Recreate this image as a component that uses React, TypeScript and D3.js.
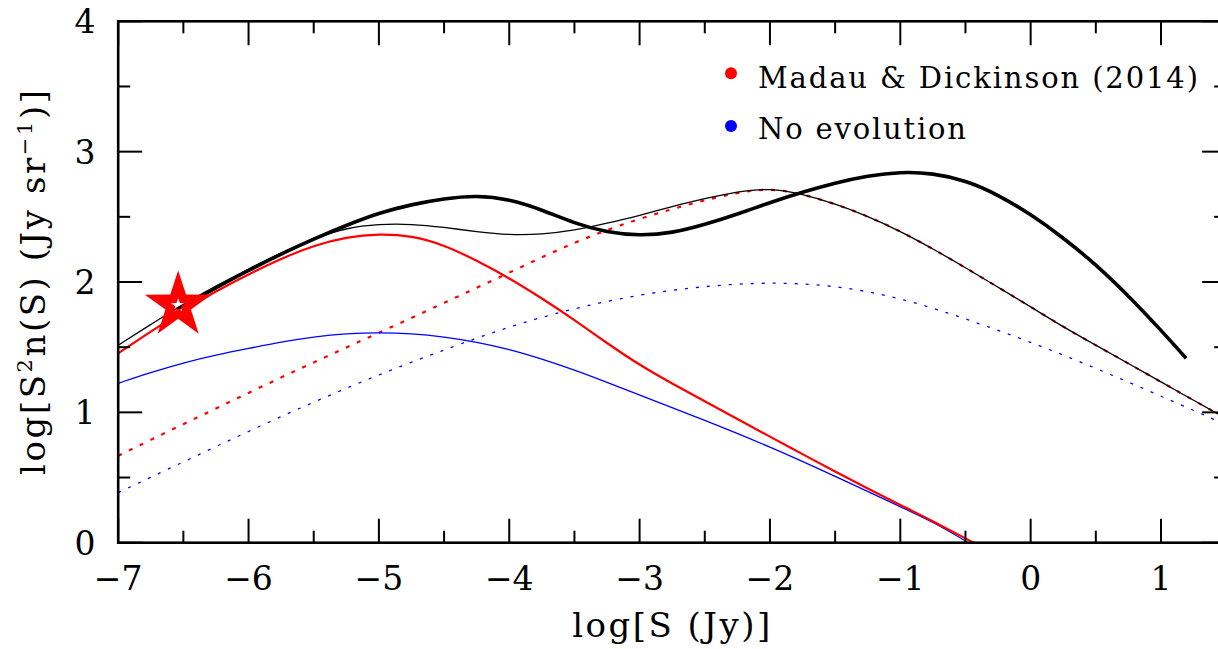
import React from 'react';
import * as d3 from 'd3';

// Canvas
const WIDTH = 1218;
const HEIGHT = 649;

// Axis domains and ticks
const X_DOMAIN: [number, number] = [-7, 1.5];
const Y_DOMAIN: [number, number] = [0, 4];
const xMajorTicks = [-7, -6, -5, -4, -3, -2, -1, 0, 1];
const xMinorTicks = [-6.5, -5.5, -4.5, -3.5, -2.5, -1.5, -0.5, 0.5, 1.5];
const xTickLabels = ['\u22127', '\u22126', '\u22125', '\u22124', '\u22123', '\u22122', '\u22121', '0', '1'];
const yMajorTicks = [0, 1, 2, 3, 4];
const yMinorTicks = [0.5, 1.5, 2.5, 3.5];
const yTickLabels = ['0', '1', '2', '3', '4'];

// Source counts, log S (Jy) vs log S^2 n(S)
const totalWithBright: [number, number][] = [
  [-6.55, 1.79], [-6.25, 1.955], [-6, 2.09], [-5.75, 2.215], [-5.5, 2.33], [-5.25, 2.435],
  [-5, 2.53], [-4.75, 2.595], [-4.5, 2.64], [-4.25, 2.665], [-4, 2.635], [-3.75, 2.555],
  [-3.5, 2.45], [-3.25, 2.38], [-3, 2.355], [-2.75, 2.375], [-2.5, 2.44], [-2.25, 2.52],
  [-2, 2.61], [-1.75, 2.69], [-1.5, 2.76], [-1.25, 2.815], [-1, 2.845], [-0.75, 2.835],
  [-0.5, 2.78], [-0.25, 2.67], [0, 2.52], [0.25, 2.34], [0.5, 2.135], [0.75, 1.895],
  [1, 1.63], [1.193, 1.415],
];

const totalSum: [number, number][] = [
  [-7, 1.515], [-6.75, 1.675], [-6.5, 1.83], [-6.25, 1.97], [-6, 2.1], [-5.75, 2.225],
  [-5.5, 2.335], [-5.25, 2.415], [-5, 2.445], [-4.75, 2.445], [-4.5, 2.42], [-4.25, 2.385],
  [-4, 2.36], [-3.75, 2.365], [-3.5, 2.395], [-3.25, 2.45], [-3, 2.51], [-2.75, 2.58],
  [-2.5, 2.64], [-2.25, 2.695], [-2, 2.72], [-1.75, 2.675], [-1.5, 2.6], [-1.25, 2.505],
  [-1, 2.39], [-0.75, 2.255], [-0.5, 2.11], [-0.25, 1.96], [0, 1.81], [0.25, 1.655],
  [0.5, 1.515], [0.75, 1.375], [1, 1.233], [1.25, 1.093], [1.5, 0.952],
];

const madauFaint: [number, number][] = [
  [-7, 1.453], [-6.75, 1.62], [-6.5, 1.78], [-6.25, 1.93], [-6, 2.06], [-5.75, 2.18],
  [-5.5, 2.28], [-5.25, 2.345], [-5, 2.37], [-4.75, 2.355], [-4.5, 2.285], [-4.25, 2.165],
  [-4, 2.03], [-3.75, 1.875], [-3.5, 1.71], [-3.25, 1.53], [-3, 1.363], [-2.75, 1.22],
  [-2.5, 1.085], [-2.25, 0.95], [-2, 0.813], [-1.75, 0.68], [-1.5, 0.545], [-1.25, 0.415],
  [-1, 0.289], [-0.75, 0.165], [-0.437, 0],
];

const madauBright: [number, number][] = [
  [-7, 0.667], [-6.5, 0.91], [-6, 1.15], [-5.5, 1.385], [-5, 1.61], [-4.5, 1.84],
  [-4, 2.07], [-3.5, 2.31], [-3, 2.49], [-2.5, 2.63], [-2.25, 2.685], [-2, 2.72],
  [-1.75, 2.675], [-1.5, 2.6], [-1.25, 2.505], [-1, 2.39], [-0.75, 2.255], [-0.5, 2.11],
  [-0.25, 1.96], [0, 1.81], [0.25, 1.655], [0.5, 1.515], [0.75, 1.375], [1, 1.233],
  [1.25, 1.093], [1.5, 0.952],
];

const noEvoFaint: [number, number][] = [
  [-7, 1.223], [-6.75, 1.305], [-6.5, 1.38], [-6.25, 1.44], [-6, 1.49], [-5.75, 1.54],
  [-5.5, 1.58], [-5.25, 1.605], [-5, 1.612], [-4.75, 1.605], [-4.5, 1.58], [-4.25, 1.54],
  [-4, 1.485], [-3.75, 1.41], [-3.5, 1.325], [-3.25, 1.23], [-3, 1.133], [-2.5, 0.94],
  [-2, 0.737], [-1.5, 0.51], [-1, 0.276], [-0.75, 0.16], [-0.477, 0],
];

const noEvoBright: [number, number][] = [
  [-7, 0.384], [-6.5, 0.62], [-6, 0.855], [-5.5, 1.08], [-5, 1.29], [-4.5, 1.48],
  [-4, 1.66], [-3.5, 1.8], [-3, 1.905], [-2.5, 1.97], [-2, 2.0], [-1.5, 1.975],
  [-1, 1.88], [-0.5, 1.72], [0, 1.54], [0.5, 1.34], [1, 1.125], [1.5, 0.905],
];

// Observed point marked with a star
const starPoints: [number, number][] = [[-6.54, 1.82]];

// Legend entries
const legendLabels = ['Madau & Dickinson (2014)', 'No evolution'];
const legendColors = ['#ff0000', '#0000ff'];

const FONT = '"DejaVu Serif", serif';

function starPath(cx: number, cy: number, rOuter: number, rInner: number, reverse = false): string {
  const pts: [number, number][] = [];
  for (let i = 0; i < 10; i++) {
    const r = i % 2 === 0 ? rOuter : rInner;
    const a = -Math.PI / 2 + (i * Math.PI) / 5;
    pts.push([cx + r * Math.cos(a), cy + r * Math.sin(a)]);
  }
  if (reverse) pts.reverse();
  return 'M' + pts.map((p) => `${p[0].toFixed(2)},${p[1].toFixed(2)}`).join('L') + 'Z';
}

export default function App() {
  const left = 118.2;
  const top = 21.3;
  const bottom = 542.7;
  const unitX = 130.35;
  const right = left + (X_DOMAIN[1] - X_DOMAIN[0]) * unitX;

  const x = d3.scaleLinear().domain(X_DOMAIN).range([left, right]);
  const y = d3.scaleLinear().domain(Y_DOMAIN).range([bottom, top]);

  const line = d3
    .line<[number, number]>()
    .x((d) => x(d[0]))
    .y((d) => y(d[1]))
    .curve(d3.curveBasis);

  const majorLen = 24;
  const minorLen = 12;

  return (
    <svg
      width={WIDTH}
      height={HEIGHT}
      style={{ position: 'absolute', left: 0, top: 0, background: '#fff' }}
      xmlns="http://www.w3.org/2000/svg"
    >
      <rect x={0} y={0} width={WIDTH} height={HEIGHT} fill="#fff" />

      {/* curves */}
      <g fill="none" strokeLinejoin="round">
        <path d={line(noEvoBright) || ''} stroke="#0000ff" strokeWidth={1.3} strokeDasharray="3 8" />
        <path d={line(madauBright) || ''} stroke="#ff0000" strokeWidth={2.2} strokeDasharray="4 8" />
        <path d={line(noEvoFaint) || ''} stroke="#0000ff" strokeWidth={1.3} />
        <path d={line(madauFaint) || ''} stroke="#ff0000" strokeWidth={2.2} />
        <path d={line(totalSum) || ''} stroke="#000" strokeWidth={1.3} />
        <path d={line(totalWithBright) || ''} stroke="#000" strokeWidth={3.6} strokeLinecap="butt" />
      </g>

      {/* star marker with hollow centre */}
      {starPoints.map((p, i) => {
        const cx = x(p[0]);
        const cy = y(p[1]);
        const d = starPath(cx, cy, 35, 13.4) + starPath(cx, cy, 7.5, 2.9, true);
        return <path key={i} d={d} fill="#ff0000" fillRule="evenodd" />;
      })}

      {/* frame */}
      <rect x={left} y={top} width={right - left} height={bottom - top} fill="none" stroke="#000" strokeWidth={2.6} />

      {/* ticks */}
      <g stroke="#000" strokeWidth={2}>
        {xMajorTicks.map((t) => (
          <g key={'xM' + t}>
            <line x1={x(t)} x2={x(t)} y1={bottom} y2={bottom - majorLen} />
            <line x1={x(t)} x2={x(t)} y1={top} y2={top + majorLen} />
          </g>
        ))}
        {xMinorTicks.map((t) => (
          <g key={'xm' + t}>
            <line x1={x(t)} x2={x(t)} y1={bottom} y2={bottom - minorLen} />
            <line x1={x(t)} x2={x(t)} y1={top} y2={top + minorLen} />
          </g>
        ))}
        {yMajorTicks.map((t) => (
          <g key={'yM' + t}>
            <line x1={left} x2={left + majorLen} y1={y(t)} y2={y(t)} />
            <line x1={right} x2={right - majorLen} y1={y(t)} y2={y(t)} />
          </g>
        ))}
        {yMinorTicks.map((t) => (
          <g key={'ym' + t}>
            <line x1={left} x2={left + minorLen} y1={y(t)} y2={y(t)} />
            <line x1={right} x2={right - minorLen} y1={y(t)} y2={y(t)} />
          </g>
        ))}
      </g>

      {/* tick labels */}
      <g fontFamily={FONT} fontSize={33} fill="#000">
        {xMajorTicks.map((t, i) => (
          <text key={'xl' + t} x={x(t)} y={590} textAnchor="middle">
            {xTickLabels[i]}
          </text>
        ))}
        {yMajorTicks.map((t, i) => (
          <text key={'yl' + t} x={85} y={y(t) + 12} textAnchor="middle">
            {yTickLabels[i]}
          </text>
        ))}
      </g>

      {/* axis titles */}
      <text
        x={(left + right) / 2 - 1}
        y={637}
        textAnchor="middle"
        fontFamily={FONT}
        fontSize={34}
        textLength={198}
        lengthAdjust="spacing"
      >
        log[S (Jy)]
      </text>
      <text
        transform={`translate(45,282.5) rotate(-90)`}
        textAnchor="middle"
        fontFamily={FONT}
        fontSize={34}
        textLength={385}
        lengthAdjust="spacing"
      >
        log[S<tspan fontSize={21} dy={-13}>2</tspan>
        <tspan dy={13}>n(S) (Jy sr</tspan>
        <tspan fontSize={21} dy={-13}>{'\u22121'}</tspan>
        <tspan dy={13}>)]</tspan>
      </text>

      {/* legend */}
      {legendLabels.map((lab, i) => (
        <g key={lab}>
          <circle cx={731} cy={73.3 + i * 52.7} r={6} fill={legendColors[i]} />
          <text
            x={758}
            y={88.3 + i * 50.7}
            fontFamily={FONT}
            fontSize={29}
            textLength={i === 0 ? 440 : 208}
            lengthAdjust="spacing"
          >
            {lab}
          </text>
        </g>
      ))}
    </svg>
  );
}
